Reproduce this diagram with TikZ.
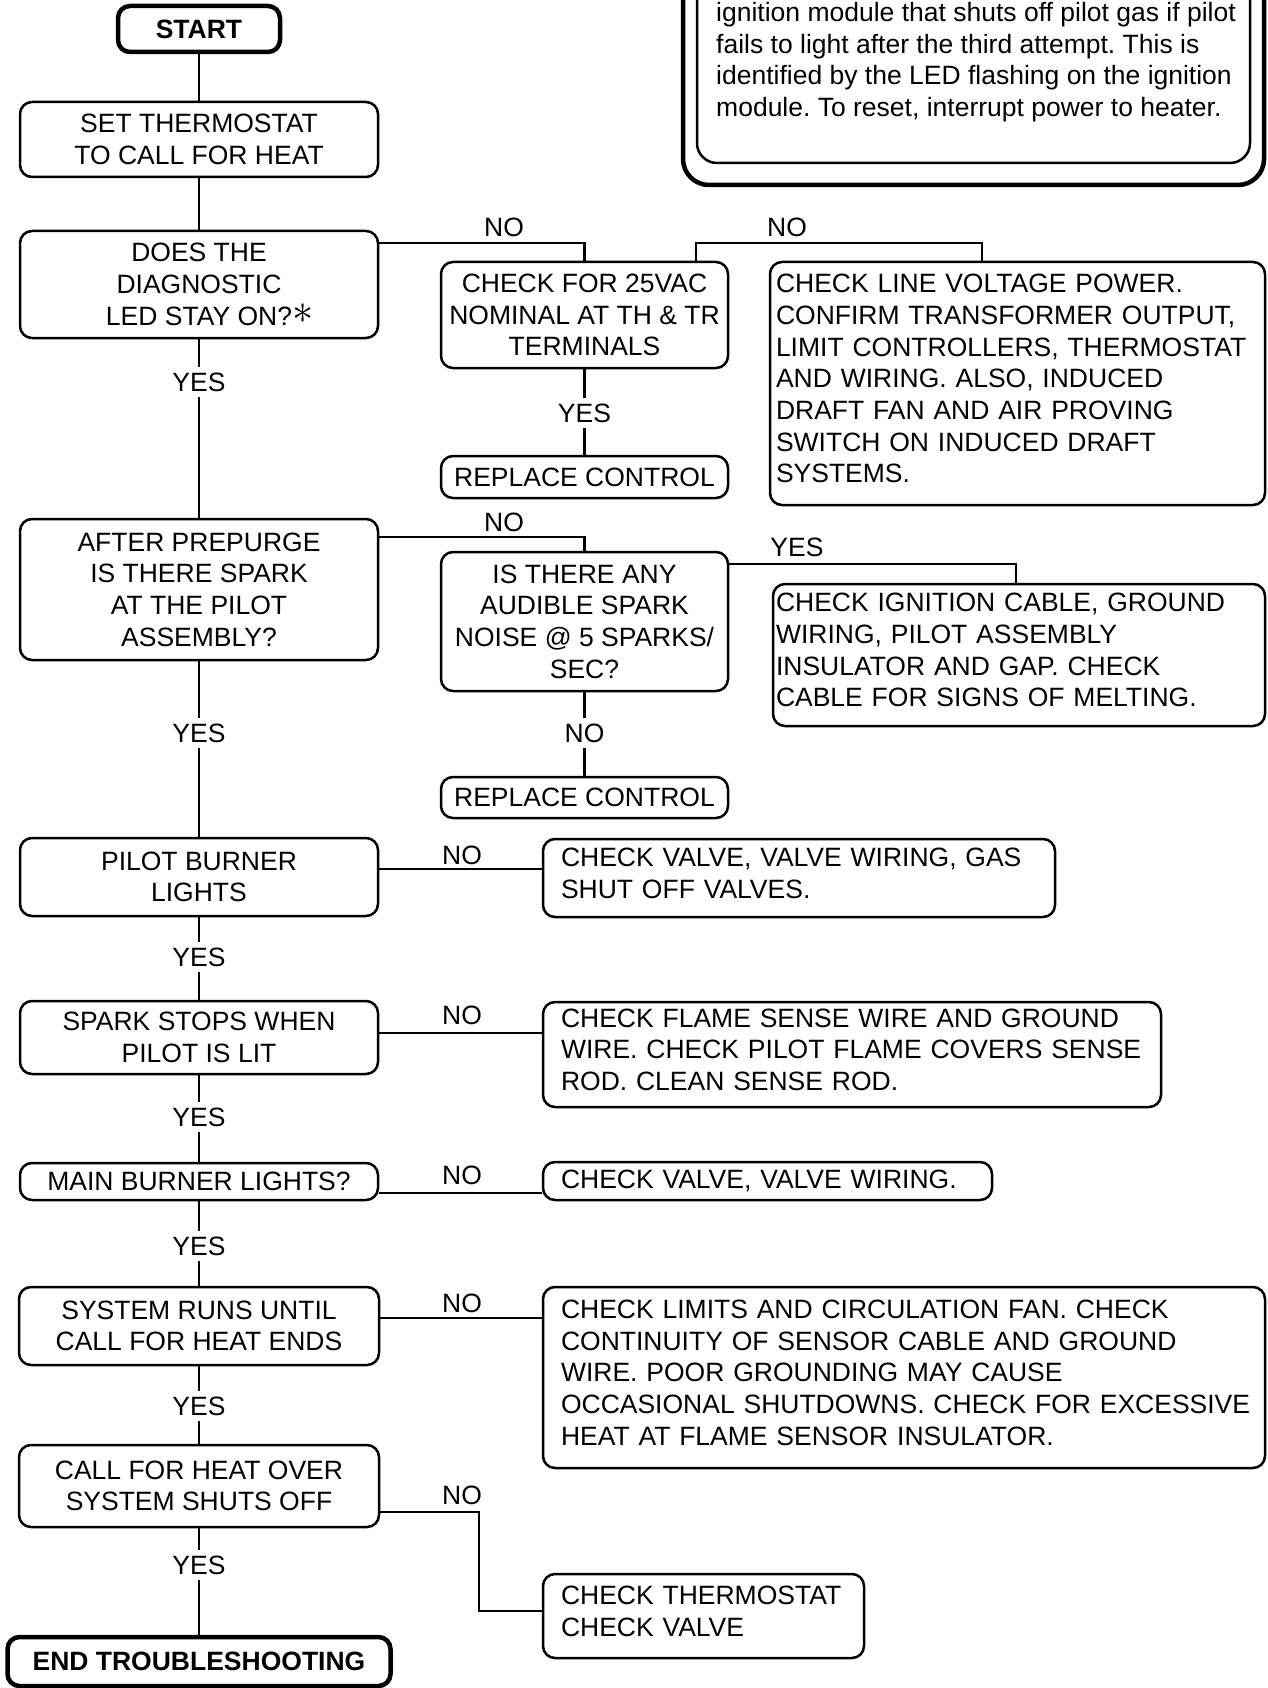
\documentclass[tikz,border=0pt]{standalone}
\usepackage{graphicx}
\usepackage{fontspec}
\setmainfont{Liberation Sans}
\frenchspacing
\newcommand{\diagfont}{\fontsize{26.5}{31.7}\selectfont}
\newcommand{\bigast}{\raisebox{2pt}{\scalebox{1.7}{$\ast$}}}
\newcommand{\liftstrut}{\rule[-10pt]{0pt}{10pt}}
\begin{document}
\begin{tikzpicture}[x=1pt,y=-1pt,
  box/.style={draw, line width=2.5pt, rounded corners=12pt, align=center, inner sep=0pt, font=\diagfont},
  thickbox/.style={box, line width=4.5pt, font=\diagfont\bfseries},
  lbox/.style={box, align=left, inner xsep=18pt},
  conn/.style={line width=2.5pt},
  lbl/.style={font=\diagfont, inner xsep=2pt, inner ysep=6pt},
  lblw/.style={lbl, fill=white}]
\useasboundingbox (0,0) rectangle (1267,1688);
\clip (0,0) rectangle (1267,1688);

% note frame (top right)
\draw[line width=4.5pt, rounded corners=26pt] (683,-80) rectangle (1264,185);
\draw[line width=2.5pt, rounded corners=20pt] (697,-80) rectangle (1250,163);
\node[font=\diagfont, align=left, inner sep=0pt, anchor=north west] (note) at (716,2)
  {ignition module that shuts off pilot gas if pilot\\fails to light after the third attempt. This is\\identified by the LED flashing on the ignition\\module. To reset, interrupt power to heater.};

% left column
\node[thickbox, minimum width=162, minimum height=46] (start) at (199,29) {START};
\node[box, minimum width=358, minimum height=75] (set) at (199,139.5) {SET THERMOSTAT\\TO CALL FOR HEAT};
\node[box, minimum width=358, minimum height=107] (led) at (199,284.5) {DOES THE\\DIAGNOSTIC\\LED STAY ON?\rlap{\bigast}};
\node[box, minimum width=358, minimum height=141] (pre) at (199,589.5) {AFTER PREPURGE\\IS THERE SPARK\\AT THE PILOT\\ASSEMBLY?};
\node[box, minimum width=358, minimum height=78] (pilot) at (199,877) {PILOT BURNER\\LIGHTS};
\node[box, minimum width=358, minimum height=73] (spark) at (199,1037.5) {SPARK STOPS WHEN\\PILOT IS LIT};
\node[box, minimum width=358, minimum height=37] (main) at (199,1181.5) {MAIN BURNER LIGHTS?};
\node[box, minimum width=360, minimum height=78] (runs) at (199,1326) {SYSTEM RUNS UNTIL\\CALL FOR HEAT ENDS};
\node[box, minimum width=360, minimum height=82] (over) at (199,1486) {CALL FOR HEAT OVER\\SYSTEM SHUTS OFF};
\node[thickbox, minimum width=383, minimum height=49] (endb) at (199,1661.5) {END TROUBLESHOOTING};

% middle column
\node[box, minimum width=287, minimum height=106] (chk) at (584.5,315) {CHECK FOR 25VAC\\NOMINAL AT TH \& TR\\TERMINALS};
\node[box, minimum width=287, minimum height=42] (rep1) at (584.5,477) {REPLACE CONTROL};
\node[box, minimum width=287, minimum height=139] (noise) at (584.5,621.5) {IS THERE ANY\\AUDIBLE SPARK\\NOISE @ 5 SPARKS/\\SEC?};
\node[box, minimum width=287, minimum height=41] (rep2) at (584.5,797.5) {REPLACE CONTROL};

% right column
\node[lbox, inner xsep=6pt, text width=483, minimum height=243] (linev) at (1017.5,383.5)
  {CHECK LINE VOLTAGE POWER.\\CONFIRM TRANSFORMER OUTPUT,\\LIMIT CONTROLLERS, THERMOSTAT\\AND WIRING. ALSO, INDUCED\\DRAFT FAN AND AIR PROVING\\SWITCH ON INDUCED DRAFT\\SYSTEMS.\liftstrut};
\node[lbox, inner xsep=3pt, text width=486, minimum height=142] (ign) at (1019,655)
  {CHECK IGNITION CABLE, GROUND\\WIRING, PILOT ASSEMBLY\\INSULATOR AND GAP. CHECK\\CABLE FOR SIGNS OF MELTING.\liftstrut};
\node[lbox, text width=476, minimum height=78] (gas) at (799,878)
  {CHECK VALVE, VALVE WIRING, GAS\\SHUT OFF VALVES.\liftstrut};
\node[lbox, text width=582, minimum height=105] (flame) at (852,1054.5)
  {\mbox{CHECK FLAME SENSE WIRE AND GROUND}\\\mbox{WIRE. CHECK PILOT FLAME COVERS SENSE}\\ROD. CLEAN SENSE ROD.\liftstrut};
\node[lbox, text width=413, minimum height=38] (valve) at (767.5,1181)
  {CHECK VALVE, VALVE WIRING.};
\node[lbox, text width=686, minimum height=181] (limits) at (904,1377.5)
  {CHECK LIMITS AND CIRCULATION FAN. CHECK\\CONTINUITY OF SENSOR CABLE AND GROUND\\WIRE. POOR GROUNDING MAY CAUSE\\\mbox{OCCASIONAL SHUTDOWNS. CHECK FOR EXCESSIVE}\\HEAT AT FLAME SENSOR INSULATOR.\liftstrut};
\node[lbox, text width=285, minimum height=84] (thermo) at (703.5,1616)
  {\mbox{CHECK THERMOSTAT}\\CHECK VALVE\liftstrut};

% bend points
\coordinate (j1) at (584.5,243);
\coordinate (j2) at (696,243);
\coordinate (j3) at (982,243);
\coordinate (j4) at (584.5,537);
\coordinate (j5) at (1016,564);
\coordinate (h1) at (0,869);
\coordinate (h2) at (0,1033);
\coordinate (h3) at (0,1193);
\coordinate (h4) at (0,1318);
\coordinate (k1) at (479,1512);
\coordinate (k2) at (479,1611);

% connectors
\draw[conn] (start) -- (set);
\draw[conn] (set) -- (led);
\draw[conn] (led) -- (pre);
\draw[conn] (pre) -- (pilot);
\draw[conn] (pilot) -- (spark);
\draw[conn] (spark) -- (main);
\draw[conn] (main) -- (runs);
\draw[conn] (runs) -- (over);
\draw[conn] (over) -- (endb);
\draw[conn] (led.east |- j1) -- (j1) -- (chk.north);
\draw[conn] (chk.north -| j2) -- (j2) -- (j3) -- (linev.north -| j3);
\draw[conn] (chk) -- (rep1);
\draw[conn] (pre.east |- j4) -- (j4) -- (noise.north);
\draw[conn] (noise.east |- j5) -- (j5) -- (ign.north -| j5);
\draw[conn] (noise) -- (rep2);
\draw[conn] (pilot.east |- h1) -- (gas.west |- h1);
\draw[conn] (spark.east |- h2) -- (flame.west |- h2);
\draw[conn] (main.east |- h3) -- (valve.west |- h3);
\draw[conn] (runs.east |- h4) -- (limits.west |- h4);
\draw[conn] (over.east |- k1) -- (k1) -- (k2) -- (thermo.west |- k2);

% labels
\node[lbl] (no1) at (504,227) {NO};
\node[lbl] (no2) at (787,227) {NO};
\node[lblw] (yes1) at (584.5,413) {YES};
\node[lblw] (yes2) at (199,382) {YES};
\node[lbl] (no3) at (504,522) {NO};
\node[lbl] (yes3) at (797,547) {YES};
\node[lblw] (no4) at (584.5,733) {NO};
\node[lblw] (yes4) at (199,733) {YES};
\node[lbl] (no5) at (462,855) {NO};
\node[lblw] (yes5) at (199,957) {YES};
\node[lbl] (no6) at (462,1015) {NO};
\node[lblw] (yes6) at (199,1117) {YES};
\node[lbl] (no7) at (462,1175) {NO};
\node[lblw] (yes7) at (199,1246) {YES};
\node[lbl] (no8) at (462,1303) {NO};
\node[lblw] (yes8) at (199,1406) {YES};
\node[lbl] (no9) at (462,1495) {NO};
\node[lblw] (yes9) at (199,1565) {YES};
\end{tikzpicture}
\end{document}
